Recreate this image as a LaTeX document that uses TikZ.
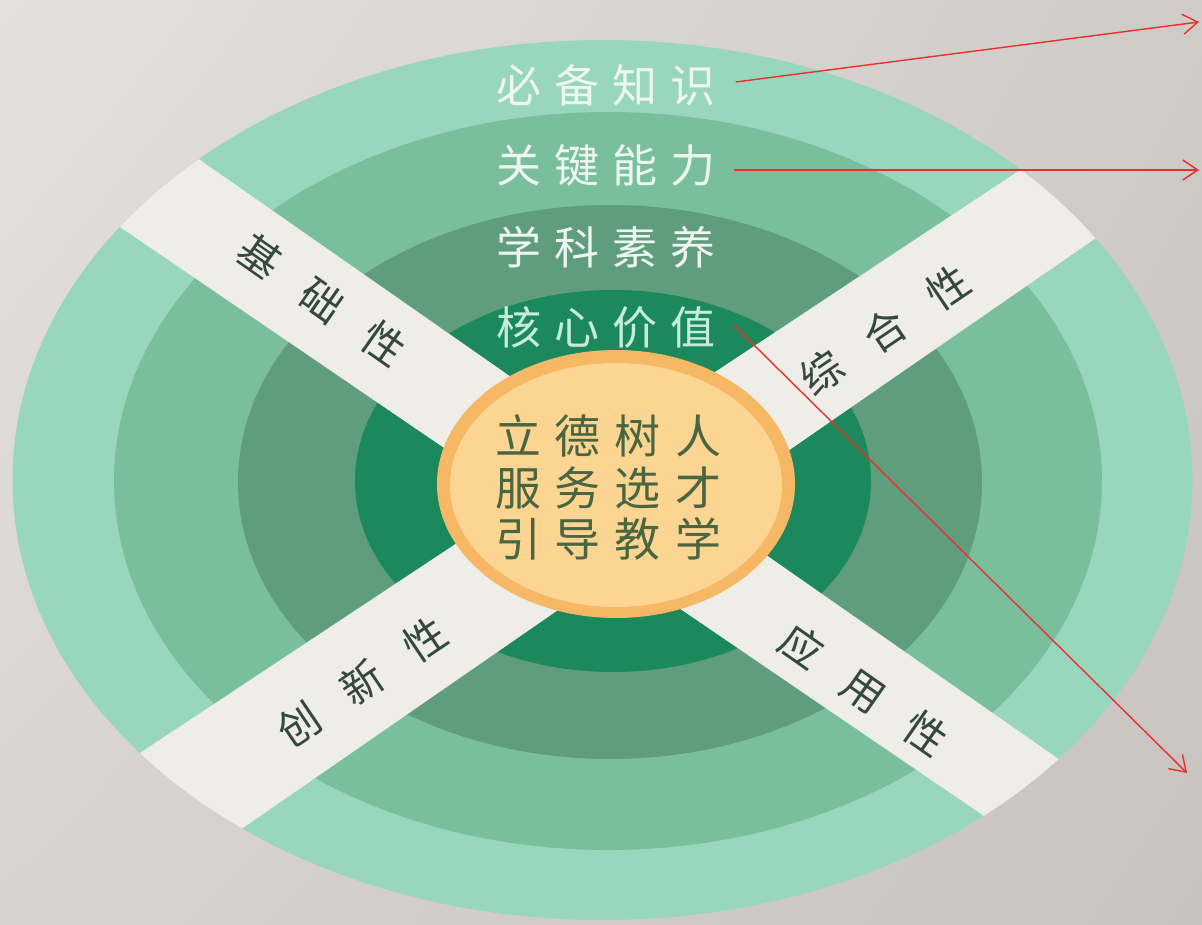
\documentclass[tikz,border=0pt]{standalone}
\usepackage{fontspec}
\setmainfont{Noto Sans CJK SC}
\usetikzlibrary{arrows.meta,calc,shadings}
\definecolor{bgUL}{HTML}{E3E0DE}
\definecolor{bgUR}{HTML}{D0CBC7}
\definecolor{bgLL}{HTML}{D8D3D0}
\definecolor{bgLR}{HTML}{C8C3BF}
\definecolor{ringA}{HTML}{98D6BD}
\definecolor{ringB}{HTML}{7ABF9B}
\definecolor{ringC}{HTML}{5F9D7C}
\definecolor{ringD}{HTML}{1C895C}
\definecolor{orangeOut}{HTML}{F6B865}
\definecolor{orangeIn}{HTML}{FDD593}
\definecolor{bandc}{HTML}{EFEDE7}
\definecolor{txtLight}{HTML}{EEF6F1}
\definecolor{txtMint}{HTML}{C6ECDC}
\definecolor{txtCenter}{HTML}{4A6640}
\definecolor{txtBand}{HTML}{34483F}
\definecolor{arrowred}{HTML}{E8302E}
\newcommand{\gapx}[1]{\hspace{#1pt}}
\tikzset{
  ringtxt/.style={inner sep=0pt, font=\fontsize{45}{50}\selectfont},
  centertxt/.style={inner sep=0pt, text=txtCenter, font=\fontsize{46}{50}\selectfont},
  bandtxt/.style={inner sep=0pt, text=txtBand, font=\fontsize{42}{46}\selectfont},
  redarrow/.style={draw=arrowred, line width=1.4pt, -{Straight Barb[length=15pt,width=20pt]}}
}
\begin{document}
\begin{tikzpicture}[x=1pt,y=-1pt]
\useasboundingbox (0,0) rectangle (1202,925);
\shade[upper left=bgUL, upper right=bgUR, lower left=bgLL, lower right=bgLR] (0,0) rectangle (1202,925);
% rings
\fill[ringA] (602.5,480) ellipse [x radius=590, y radius=440];
\fill[ringB] (608,481) ellipse [x radius=494, y radius=369];
\fill[ringC] (610,482) ellipse [x radius=372, y radius=277];
\fill[ringD] (613,481) ellipse [x radius=258, y radius=191];
% bands
\begin{scope}
\clip (602.5,480) ellipse [x radius=590, y radius=440];
\fill[bandc] ($(200,160)!-0.3!(1060,760)$) -- ($(1060,760)!-0.3!(200,160)$)
  -- ($(987,818)!-0.3!(120,227)$) -- ($(120,227)!-0.3!(987,818)$) -- cycle;
\fill[bandc] ($(140,753)!-0.3!(1020,170)$) -- ($(1020,170)!-0.3!(140,753)$)
  -- ($(1093,240)!-0.3!(240,830)$) -- ($(240,830)!-0.3!(1093,240)$) -- cycle;
\end{scope}
% center
\fill[orangeOut] (616,484) ellipse [x radius=179, y radius=134];
\fill[orangeIn] (616,485) ellipse [x radius=166, y radius=122];
% ring texts
\node[ringtxt, text=txtLight] (t1) at (606,85) {必\gapx{13}备\gapx{13}知\gapx{13}识};
\node[ringtxt, text=txtLight] (t2) at (606,165) {关\gapx{13}键\gapx{13}能\gapx{13}力};
\node[ringtxt, text=txtLight] (t3) at (606,247) {学\gapx{13}科\gapx{13}素\gapx{13}养};
\node[ringtxt, text=txtMint] (t4) at (606,327) {核\gapx{13}心\gapx{13}价\gapx{13}值};
% center texts
\node[centertxt] (c1) at (608,436) {立\gapx{14}德\gapx{14}树\gapx{14}人};
\node[centertxt] (c2) at (608,488) {服\gapx{14}务\gapx{14}选\gapx{14}才};
\node[centertxt] (c3) at (608,539) {引\gapx{14}导\gapx{14}教\gapx{14}学};
% band texts
\node[bandtxt, rotate=-35] (k1) at (322,300) {基\gapx{34}础\gapx{34}性};
\node[bandtxt, rotate=34] (k2) at (885,330) {综\gapx{34}合\gapx{34}性};
\node[bandtxt, rotate=34] (k3) at (362,682) {创\gapx{34}新\gapx{34}性};
\node[bandtxt, rotate=-35] (k4) at (864,690) {应\gapx{34}用\gapx{34}性};
% arrows
\coordinate (e1) at (1199,22);
\coordinate (e2) at (1199,170);
\coordinate (e3) at (1187,773);
\draw[redarrow] ($(t1.east)+(20,-3)$) -- (e1);
\draw[redarrow] ($(t2.east)+(18,5)$) -- (e2);
\draw[redarrow] ($(t4.east)+(18,-2)$) -- (e3);
\end{tikzpicture}
\end{document}
